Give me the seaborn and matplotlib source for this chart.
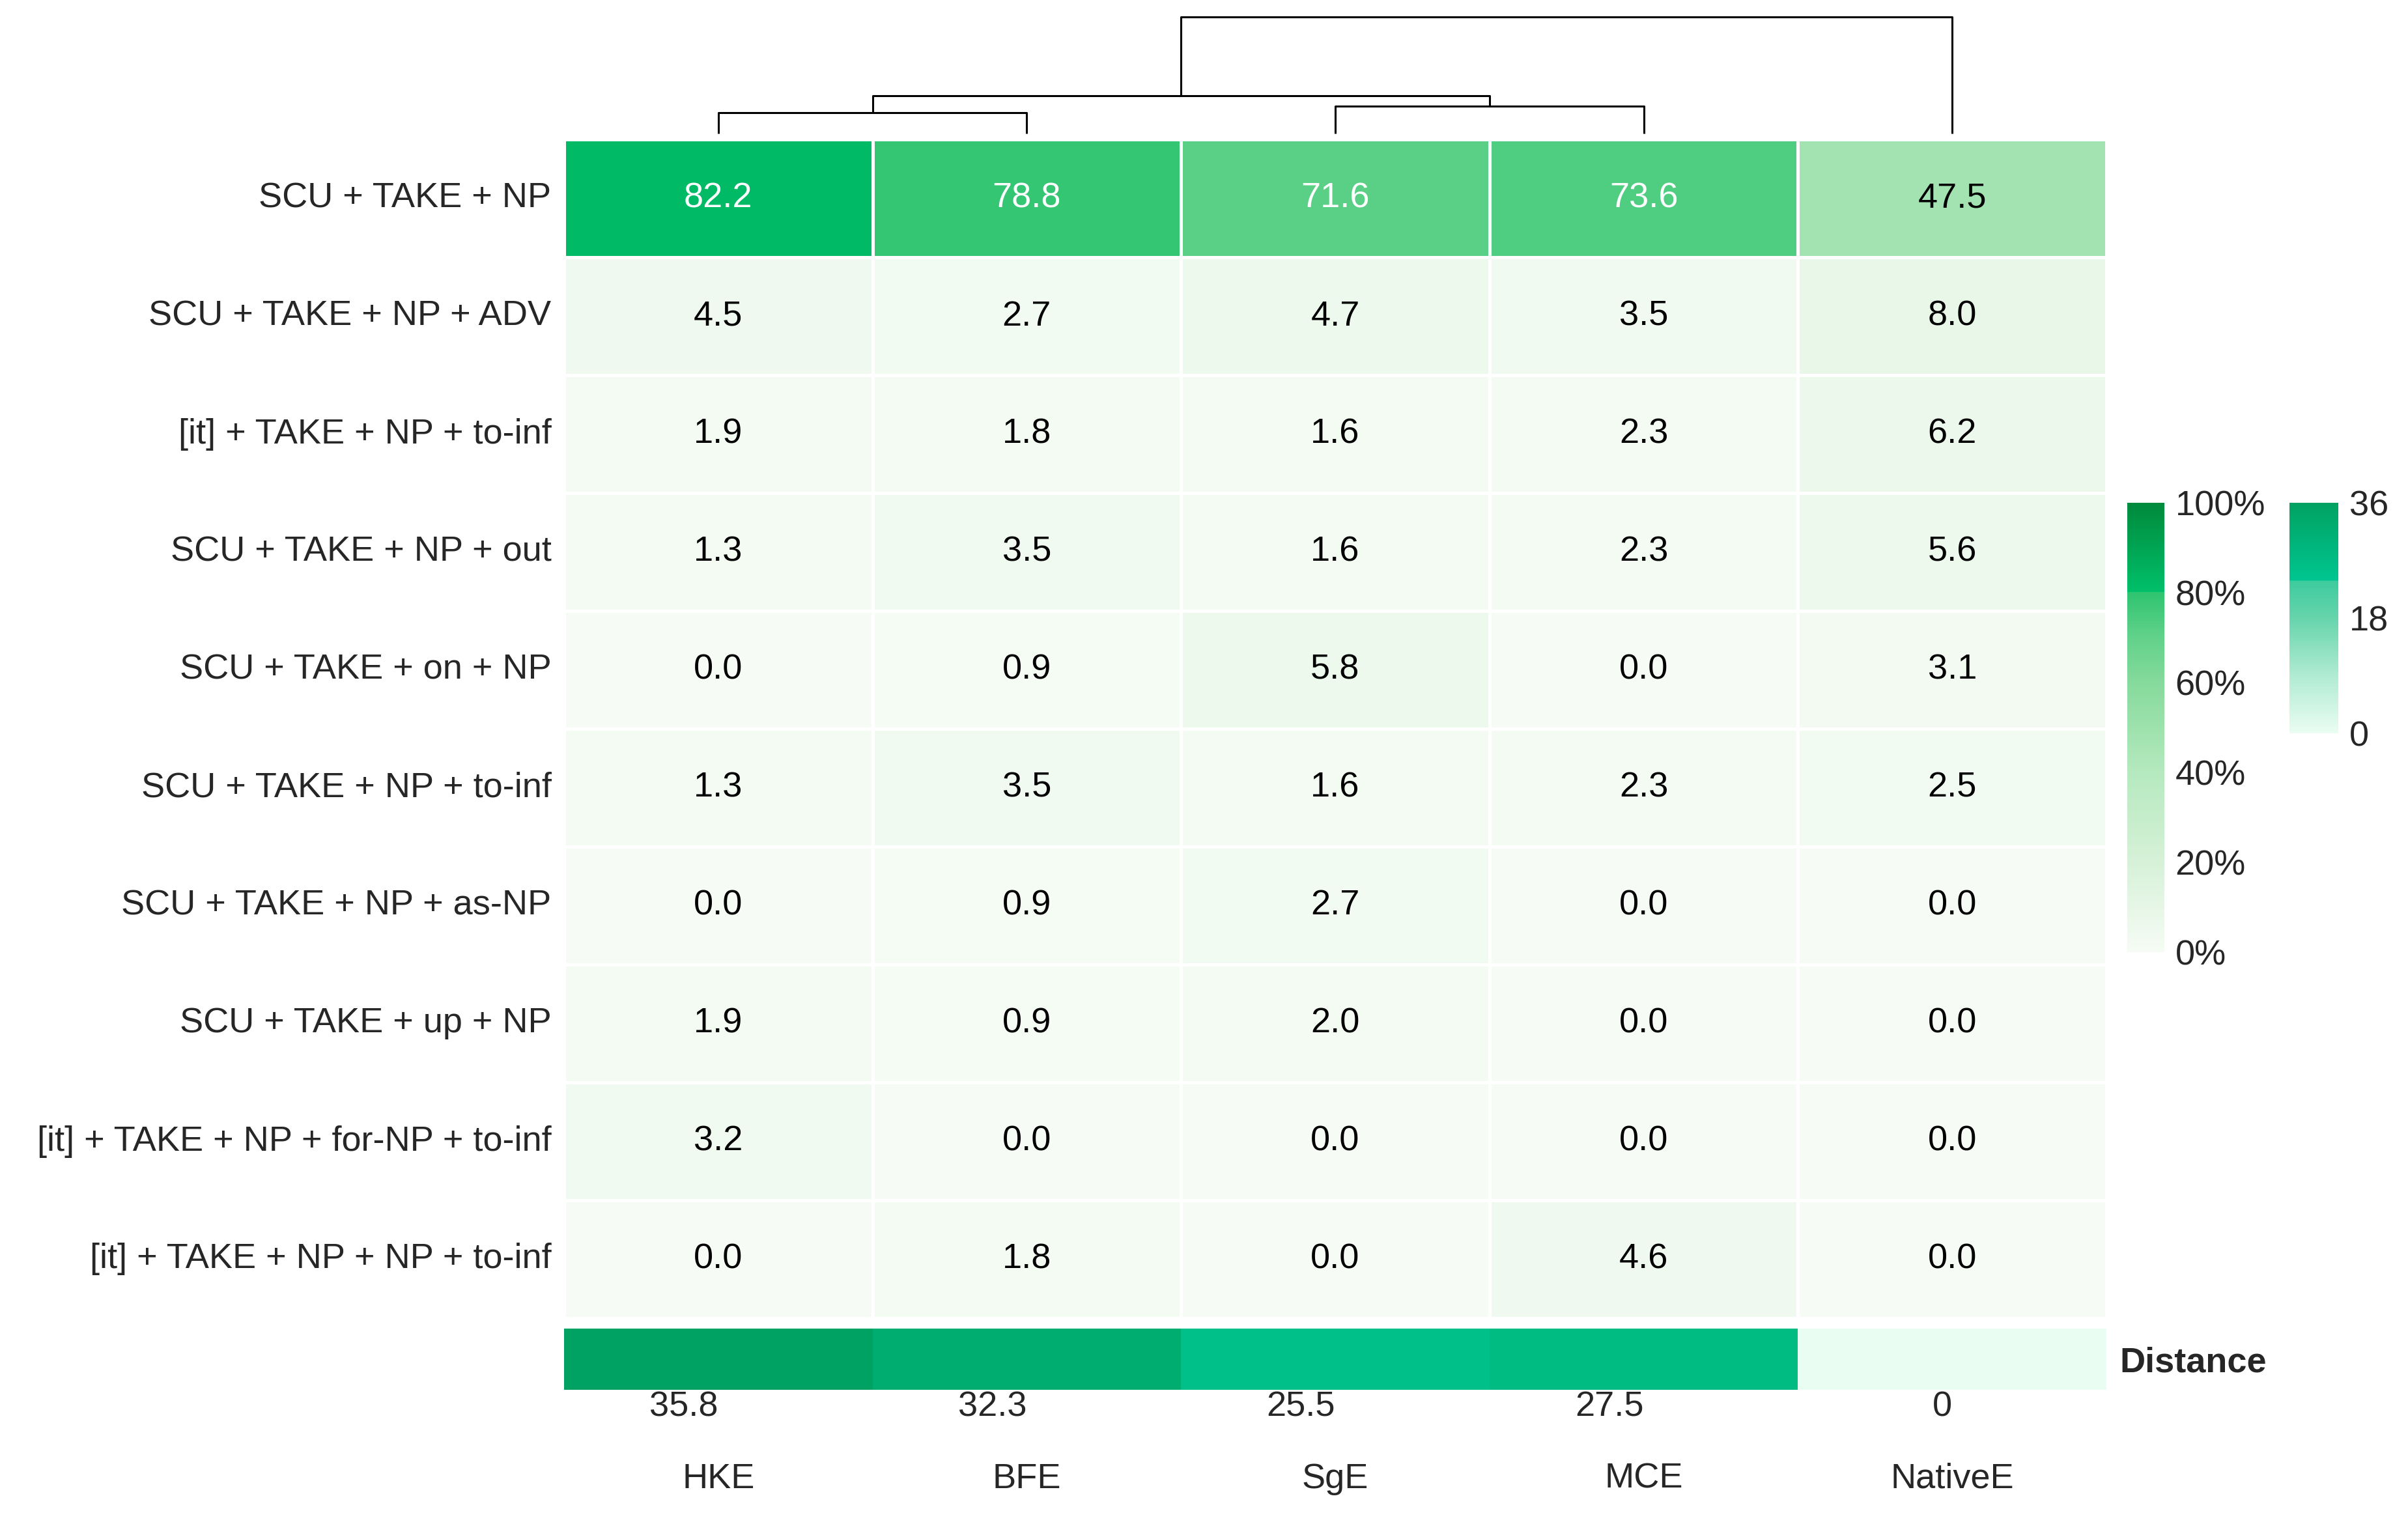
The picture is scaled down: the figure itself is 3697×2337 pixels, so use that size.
import numpy as np
import pandas as pd
import matplotlib
matplotlib.use("Agg")
import matplotlib.pyplot as plt
from matplotlib.colors import LinearSegmentedColormap
from matplotlib.ticker import FuncFormatter
import seaborn as sns

# --- data -------------------------------------------------------------------
varieties = ["HKE", "BFE", "SgE", "MCE", "NativeE"]
patterns = [
    "SCU + TAKE + NP",
    "SCU + TAKE + NP + ADV",
    "[it] + TAKE + NP + to-inf",
    "SCU + TAKE + NP + out",
    "SCU + TAKE + on + NP",
    "SCU + TAKE + NP + to-inf",
    "SCU + TAKE + NP + as-NP",
    "SCU + TAKE + up + NP",
    "[it] + TAKE + NP + for-NP + to-inf",
    "[it] + TAKE + NP + NP + to-inf",
]
hke = [82.2, 4.5, 1.9, 1.3, 0.0, 1.3, 0.0, 1.9, 3.2, 0.0]
bfe = [78.8, 2.7, 1.8, 3.5, 0.9, 3.5, 0.9, 0.9, 0.0, 1.8]
sge = [71.6, 4.7, 1.6, 1.6, 5.8, 1.6, 2.7, 2.0, 0.0, 0.0]
mce = [73.6, 3.5, 2.3, 2.3, 0.0, 2.3, 0.0, 0.0, 0.0, 4.6]
native = [47.5, 8.0, 6.2, 5.6, 3.1, 2.5, 0.0, 0.0, 0.0, 0.0]
distance = [35.8, 32.3, 25.5, 27.5, 0]

# column dendrogram: (left node, right node, height); merge k becomes node 5 + k
merges = [(0, 1, 32), (2, 3, 42), (5, 6, 58), (7, 4, 179)]

pct_ticks = [0, 20, 40, 60, 80, 100]
dist_ticks = [0, 18, 36]

# --- colours ----------------------------------------------------------------
pct_cmap = LinearSegmentedColormap.from_list("pct", [
    (0.0, "#F6FCF5"), (0.1, "#E6F6E6"), (0.2, "#D6F1D8"), (0.4, "#B5E9BE"),
    (0.6, "#86DA9C"), (0.7, "#62D28A"), (0.8, "#2FC470"), (0.801, "#00C06A"),
    (1.0, "#008A3C"),
])
dist_cmap = LinearSegmentedColormap.from_list("dist", [
    (0.0, "#EAFDF3"), (0.25, "#B0EBD3"), (0.5, "#66D4AC"), (0.66, "#3ECB9E"),
    (0.665, "#00C590"), (1.0, "#00A262"),
])

sns.set_style("white")
plt.rcParams["font.family"] = ["Liberation Sans", "DejaVu Sans"]
FS = 39

W, H = 3697, 2337


def box(x0, y0, x1, y1):
    return [x0 / W, 1 - y1 / H, (x1 - x0) / W, (y1 - y0) / H]


fig = plt.figure(figsize=(W / 100, H / 100), dpi=100)
ax_heat = fig.add_axes(box(866, 214, 3234, 2024))
ax_dist = fig.add_axes(box(866, 2040, 3234, 2134))
ax_tree = fig.add_axes(box(866, 26, 3234, 205))
ax_cb1 = fig.add_axes(box(3266, 772, 3323, 1462))
ax_cb2 = fig.add_axes(box(3515, 772, 3590, 1126))

df = pd.DataFrame({"HKE": hke, "BFE": bfe, "SgE": sge, "MCE": mce,
                   "NativeE": native}, index=patterns)

sns.heatmap(
    df, ax=ax_heat, cmap=pct_cmap, vmin=0, vmax=100,
    annot=True, fmt=".1f", annot_kws={"size": FS},
    linewidths=2.5, linecolor="white", xticklabels=False,
    cbar_ax=ax_cb1,
    cbar_kws={"ticks": pct_ticks,
              "format": FuncFormatter(lambda v, p: f"{v:.0f}%")},
)
for txt, val in zip(ax_heat.texts, df.values.ravel()):
    txt.set_color("white" if val > 60 else "black")
ax_heat.tick_params(axis="y", length=0, pad=14, labelsize=FS, rotation=0)
ax_heat.set_xlabel("")
ax_heat.set_ylabel("")

# distance strip
dist_df = pd.DataFrame([distance], columns=varieties, index=["Distance"])
sns.heatmap(
    dist_df, ax=ax_dist, cmap=dist_cmap, vmin=0, vmax=36,
    linewidths=0, cbar_ax=ax_cb2,
    xticklabels=[f"{v:g}" for v in distance], yticklabels=["Distance"],
    cbar_kws={"ticks": dist_ticks},
)
ax_dist.yaxis.tick_right()
ax_dist.tick_params(axis="y", length=0, pad=15, labelsize=FS, rotation=0)
for lab in ax_dist.get_yticklabels():
    lab.set_fontweight("bold")
ax_dist.tick_params(axis="x", length=0, pad=1, labelsize=FS, rotation=0)
for lab in ax_dist.get_xticklabels():
    lab.set_ha("right")
for i, name in enumerate(varieties):
    ax_dist.annotate(name, xy=(i + 0.5, 0), xycoords=("data", "axes fraction"),
                     xytext=(0, -98.6), textcoords="offset points",
                     ha="center", va="center", fontsize=FS)
ax_dist.set_xlabel("")
ax_dist.set_ylabel("")

# colourbars: no outline, white ticks on both sides
for cax in (ax_cb1, ax_cb2):
    cax.collections[0].colorbar.outline.set_visible(False) if hasattr(cax.collections[0], "colorbar") and cax.collections[0].colorbar else None
    for sp in cax.spines.values():
        sp.set_visible(False)
    cax.tick_params(axis="y", which="major", direction="in", color="white",
                    length=12, width=2, left=True, right=True,
                    labelleft=False, labelright=True, labelsize=FS, pad=12)

# dendrogram
xs = [i + 0.5 for i in range(len(varieties))]
hs = [0.0] * len(varieties)
for left, right, h in merges:
    ax_tree.plot([xs[left], xs[left], xs[right], xs[right]],
                 [hs[left], h, h, hs[right]],
                 color="black", lw=2.2, clip_on=False, solid_capstyle="butt")
    xs.append((xs[left] + xs[right]) / 2)
    hs.append(h)
ax_tree.set_xlim(0, len(varieties))
ax_tree.set_ylim(0, max(hs))
ax_tree.axis("off")

fig.savefig("out.png", dpi=100)
